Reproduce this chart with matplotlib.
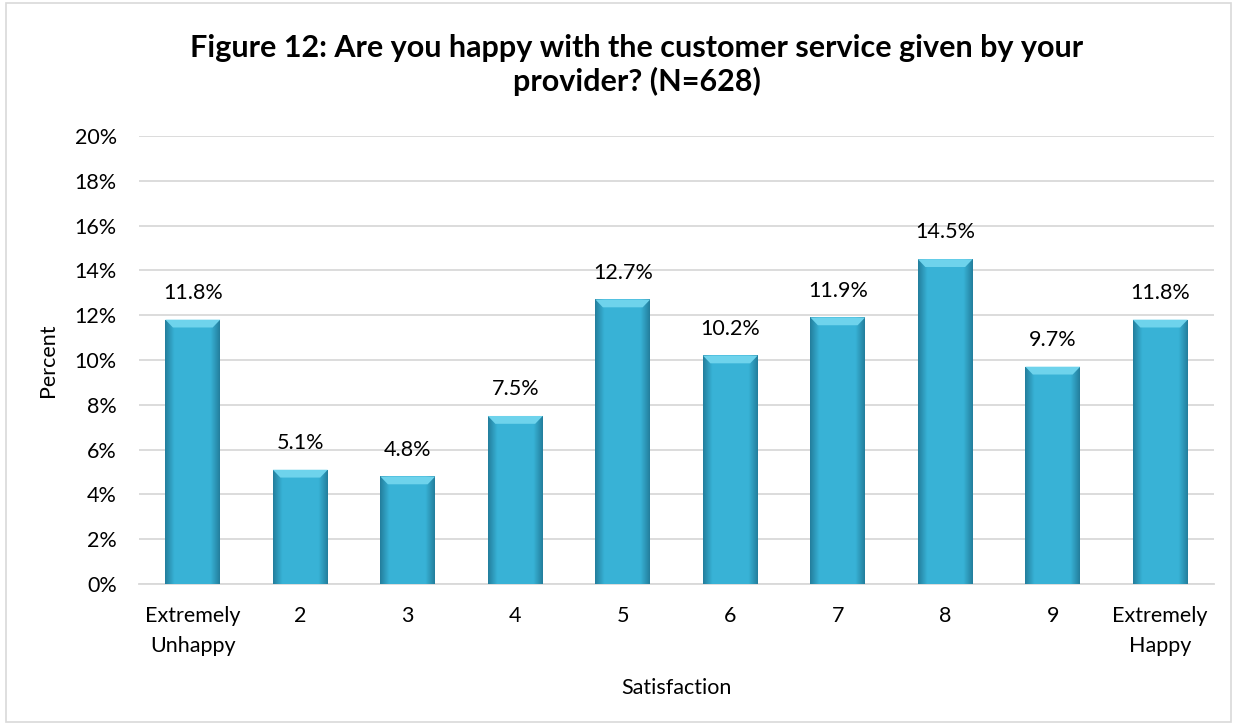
import numpy as np
import matplotlib
matplotlib.use("Agg")
import matplotlib.pyplot as plt
from matplotlib.patches import Polygon, Rectangle
from matplotlib.ticker import PercentFormatter

plt.rcParams['font.family'] = ['Lato', 'DejaVu Sans']

# datos
categorias = ["Extremely\nUnhappy", "2", "3", "4", "5", "6", "7", "8", "9", "Extremely\nHappy"]
porcentajes = [11.8, 5.1, 4.8, 7.5, 12.7, 10.2, 11.9, 14.5, 9.7, 11.8]
titulo = "Figure 12: Are you happy with the customer service given by your\nprovider? (N=628)"

fig = plt.figure(figsize=(12.37, 7.24), dpi=100)
ax = fig.add_axes([0.1124, 0.1934, 0.869, 0.6188])

x = np.arange(len(categorias))
barras = ax.bar(x, porcentajes, width=0.51, color="#31A9CB", zorder=2)

# degradado horizontal dentro de cada barra (algo mas oscuro en los bordes)
t = np.linspace(0, 1, 64)
perfil = 1 - np.abs(t - 0.5) * 2
c_borde = np.array([0.14, 0.50, 0.62])
c_centro = np.array([0.22, 0.70, 0.84])
grad = c_borde[None, :] + (c_centro - c_borde)[None, :] * np.clip(perfil * 3.0, 0, 1)[:, None]
grad = grad[None, :, :]

for b in barras:
    x0, w, h = b.get_x(), b.get_width(), b.get_height()
    im = ax.imshow(grad, extent=[x0, x0 + w, 0, h], aspect='auto', zorder=3)
    im.set_clip_path(b)
    # bisel superior
    dx, dy = 0.07, 0.35
    bisel = Polygon([[x0, h], [x0 + w, h], [x0 + w - dx, h - dy], [x0 + dx, h - dy]],
                    closed=True, facecolor="#6ED3EC", edgecolor="none", zorder=4)
    ax.add_patch(bisel)
    ax.text(x0 + w / 2, h + 0.75, f"{h:.1f}%", ha='center', va='bottom',
            fontsize=15.5, color="#000000")

ax.set_xlim(-0.5, len(categorias) - 0.5)
ax.set_ylim(0, 20)
ax.set_yticks(np.arange(0, 21, 2))
ax.yaxis.set_major_formatter(PercentFormatter(decimals=0))
ax.set_xticks(x)
ax.set_xticklabels(categorias, fontsize=15.5, linespacing=1.6)
ax.tick_params(axis='y', labelsize=15.5, length=0, pad=16)
ax.tick_params(axis='x', length=0, pad=16)
ax.grid(axis='y', color="#D9D9D9", linewidth=1.3, zorder=0)
for s in ["top", "right", "left"]:
    ax.spines[s].set_visible(False)
ax.spines["bottom"].set_color("#D9D9D9")
ax.spines["bottom"].set_linewidth(1.3)

ax.set_ylabel("Percent", fontsize=15.5, labelpad=12)
ax.set_xlabel("Satisfaction", fontsize=15.5, labelpad=16)

fig.text(0.515, 0.91, titulo, ha='center', va='center', fontsize=22,
         fontweight='bold', linespacing=1.2)

# marco exterior
fig.patches.append(Rectangle((0.005, 0.003), 0.99, 0.993, transform=fig.transFigure,
                             fill=False, edgecolor="#D9D9D9", linewidth=1.2))

fig.savefig("out.png", dpi=100)
